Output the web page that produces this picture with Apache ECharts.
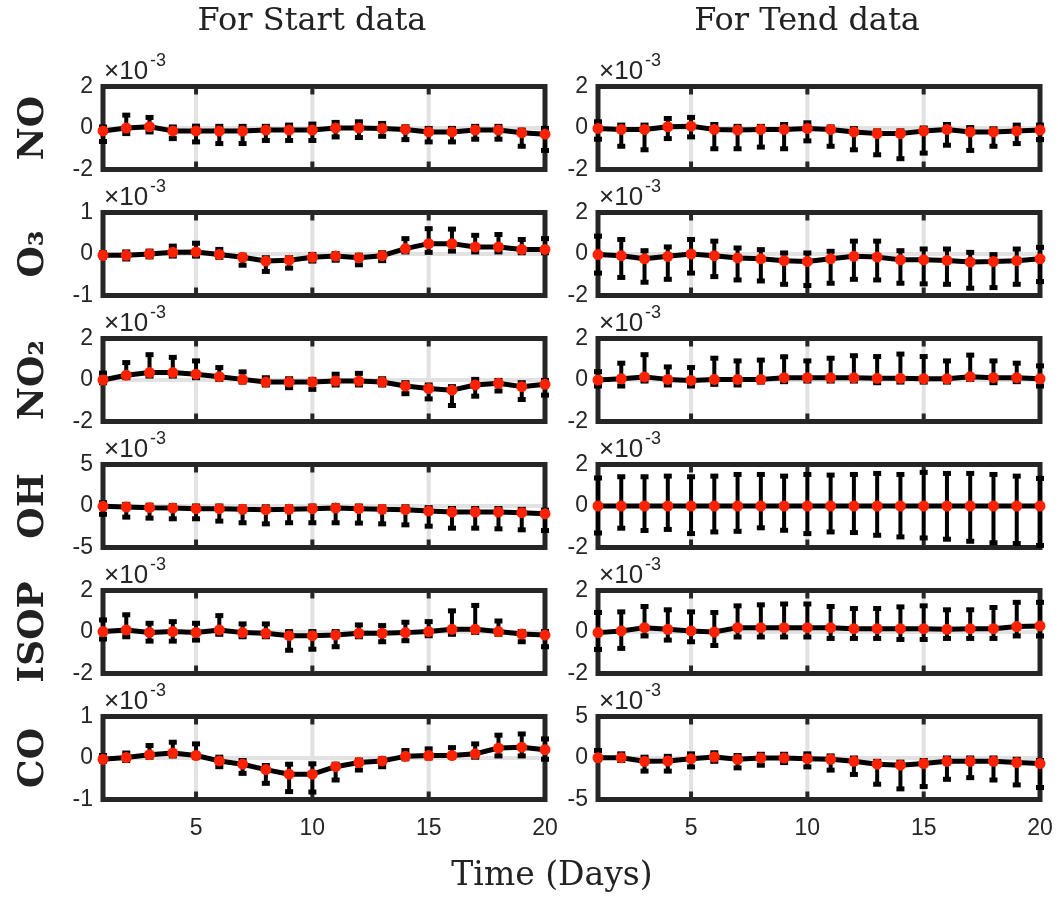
<!DOCTYPE html>
<html><head><meta charset="utf-8">
<script src="https://cdn.jsdelivr.net/npm/echarts@6/dist/echarts.min.js"></script>
<style>html,body{margin:0;padding:0;background:#fff}#c{width:1058px;height:898px}</style>
</head><body><div id="c"></div>
<script>
// All values in units of 1e-3 (axis shows ×10^-3)
const days = [1,2,3,4,5,6,7,8,9,10,11,12,13,14,15,16,17,18,19,20];
const species = ['NO','O₃','NO₂','OH','ISOP','CO'];
const columnTitles = ['For Start data','For Tend data'];
const xTickLabels = [5,10,15,20];
const xTickMarks = [5,10,15];
// y-axis half ranges [start, tend]
const yLimits = [[2,2],[1,2],[2,2],[5,2],[2,2],[1,5]];

const noStartMean = [-0.14,0.0,0.06,-0.14,-0.14,-0.15,-0.15,-0.1,-0.1,-0.1,0.0,0.0,-0.02,-0.07,-0.19,-0.19,-0.1,-0.1,-0.23,-0.3];
const noStartLow  = [-0.65,-0.27,-0.19,-0.51,-0.67,-0.75,-0.75,-0.6,-0.6,-0.6,-0.43,-0.46,-0.4,-0.56,-0.67,-0.67,-0.54,-0.54,-0.88,-1.08];
const noStartHigh = [0.05,0.62,0.51,0.05,0.09,0.08,0.08,0.08,0.14,0.19,0.27,0.3,0.22,0.06,-0.02,-0.02,0.08,0.08,-0.1,-0.02];

const noTendMean = [-0.02,-0.07,-0.07,0.06,0.09,-0.07,-0.1,-0.07,-0.07,-0.02,-0.07,-0.19,-0.27,-0.27,-0.15,-0.07,-0.19,-0.19,-0.14,-0.1];
const noTendLow  = [-0.54,-0.88,-1.05,-0.51,-0.43,-1.0,-1.0,-0.92,-1.0,-0.62,-0.88,-1.05,-1.29,-1.48,-1.21,-0.83,-1.08,-0.88,-0.75,-0.56];
const noTendHigh = [0.3,0.14,0.14,0.46,0.51,0.17,0.08,0.08,0.17,0.25,0.05,-0.03,-0.14,-0.14,0.0,0.17,0.02,-0.04,0.14,0.14];

const o3StartMean = [-0.03,-0.03,0.0,0.04,0.05,-0.01,-0.08,-0.17,-0.15,-0.08,-0.05,-0.09,-0.04,0.13,0.25,0.25,0.17,0.17,0.11,0.11];
const o3StartLow  = [-0.08,-0.12,-0.07,-0.05,-0.05,-0.08,-0.27,-0.42,-0.34,-0.17,-0.15,-0.26,-0.16,0.05,0.04,0.07,0.05,0.05,0.03,0.03];
const o3StartHigh = [0.03,0.05,0.07,0.19,0.26,0.11,-0.03,-0.09,-0.09,-0.01,0.01,-0.03,0.03,0.37,0.61,0.6,0.45,0.47,0.35,0.37];

const o3TendMean = [-0.03,-0.08,-0.23,-0.11,0.0,-0.08,-0.19,-0.23,-0.32,-0.36,-0.23,-0.11,-0.15,-0.28,-0.28,-0.31,-0.39,-0.36,-0.32,-0.23];
const o3TendLow  = [-0.92,-1.13,-1.36,-1.22,-0.92,-1.09,-1.25,-1.3,-1.46,-1.52,-1.41,-1.22,-1.25,-1.41,-1.44,-1.46,-1.65,-1.62,-1.46,-1.33];
const o3TendHigh = [0.86,0.7,0.16,0.34,0.7,0.62,0.29,0.21,0.05,0.05,0.13,0.62,0.62,0.16,0.24,0.24,0.08,-0.03,0.24,0.32];

const no2StartMean = [0.0,0.23,0.36,0.36,0.28,0.16,0.03,-0.1,-0.1,-0.1,-0.05,-0.05,-0.1,-0.29,-0.41,-0.49,-0.24,-0.16,-0.32,-0.21];
const no2StartLow  = [-0.13,0.11,0.19,0.19,0.11,0.03,-0.1,-0.24,-0.37,-0.45,-0.24,-0.24,-0.24,-0.66,-0.91,-1.23,-0.78,-0.53,-0.94,-0.73];
const no2StartHigh = [0.33,0.84,1.22,1.09,0.92,0.6,0.39,0.11,0.06,0.03,0.28,0.32,0.06,-0.13,-0.24,-0.32,0.03,-0.02,-0.13,-0.02];

const no2TendMean = [0.0,0.06,0.15,0.03,-0.02,0.03,0.03,0.03,0.11,0.11,0.11,0.11,0.08,0.08,0.06,0.06,0.16,0.11,0.11,0.06];
const no2TendLow  = [-0.29,-0.29,-0.05,-0.24,-0.29,-0.21,-0.24,-0.1,-0.08,-0.05,-0.05,-0.05,-0.13,-0.1,-0.1,-0.1,0.03,-0.13,-0.08,-0.29];
const no2TendHigh = [0.4,0.81,1.22,0.63,0.6,1.05,0.92,0.96,1.12,0.92,1.05,1.17,1.13,1.25,1.13,0.92,1.2,0.92,0.81,0.68];

const ohStartMean = [-0.04,-0.12,-0.2,-0.24,-0.32,-0.32,-0.4,-0.45,-0.4,-0.32,-0.24,-0.32,-0.4,-0.45,-0.61,-0.73,-0.73,-0.73,-0.81,-0.93];
const ohStartLow  = [-1.0,-1.34,-1.46,-1.54,-1.54,-1.82,-2.02,-2.15,-2.02,-2.02,-2.02,-2.06,-2.15,-2.27,-2.43,-2.67,-2.67,-2.75,-2.87,-2.96];
const ohStartHigh = [0.4,0.2,0.1,0.05,0.0,0.0,-0.1,-0.1,-0.1,0.0,0.05,0.0,-0.1,-0.1,-0.2,-0.3,-0.3,-0.3,-0.4,-0.5];

const ohTendMean = [0,0,0,0,0,0,0,0,0,0,0,0,0,0,0,0,0,0,0,0];
const ohTendLow  = [-1.3,-1.07,-1.18,-1.13,-1.33,-1.25,-1.22,-1.05,-1.17,-1.33,-1.25,-1.28,-1.41,-1.49,-1.54,-1.6,-1.7,-1.77,-1.81,-1.9];
const ohTendHigh = [1.35,1.41,1.41,1.44,1.41,1.44,1.52,1.52,1.44,1.52,1.49,1.52,1.57,1.52,1.62,1.57,1.57,1.52,1.44,1.33];

const isopStartMean = [0.02,0.1,-0.02,0.02,-0.02,0.1,-0.03,-0.06,-0.18,-0.18,-0.15,-0.06,-0.06,-0.03,0.02,0.13,0.13,0.02,-0.1,-0.15];
const isopStartLow  = [-0.34,-0.23,-0.44,-0.44,-0.39,-0.11,-0.23,-0.23,-0.88,-0.83,-0.71,-0.23,-0.47,-0.42,-0.18,-0.11,-0.02,-0.11,-0.47,-0.71];
const isopStartHigh = [0.58,0.83,0.42,0.5,0.42,0.79,0.39,0.39,0.02,0.02,0.02,0.34,0.31,0.47,0.5,1.02,1.28,0.53,0.02,0.02];

const isopTendMean = [-0.03,0.05,0.21,0.13,0.05,0.0,0.21,0.21,0.21,0.21,0.21,0.16,0.16,0.16,0.16,0.13,0.16,0.16,0.26,0.29];
const isopTendLow  = [-0.84,-0.79,-0.19,-0.39,-0.47,-0.65,-0.24,-0.24,-0.24,-0.24,-0.31,-0.31,-0.31,-0.36,-0.36,-0.31,-0.31,-0.31,-0.19,-0.19];
const isopTendHigh = [0.94,0.97,1.23,1.07,0.97,0.94,1.26,1.31,1.35,1.35,1.23,1.13,1.13,1.21,1.26,1.07,1.07,1.18,1.43,1.43];

const coStartMean = [-0.03,0.01,0.08,0.12,0.06,-0.07,-0.15,-0.28,-0.39,-0.39,-0.21,-0.11,-0.07,0.04,0.06,0.06,0.1,0.24,0.26,0.2];
const coStartLow  = [-0.08,-0.06,0.02,0.05,0.01,-0.21,-0.37,-0.61,-0.81,-0.82,-0.53,-0.29,-0.21,-0.02,0.0,0.02,0.02,0.05,0.05,-0.03];
const coStartHigh = [0.06,0.12,0.3,0.38,0.34,0.02,-0.06,-0.18,-0.15,-0.14,-0.15,-0.05,-0.02,0.18,0.22,0.25,0.34,0.55,0.58,0.46];

const coTendMean = [0.04,0.04,-0.4,-0.36,-0.08,0.12,-0.16,0.0,0.0,-0.08,-0.16,-0.4,-0.75,-0.87,-0.67,-0.4,-0.4,-0.4,-0.55,-0.67];
const coTendLow  = [-0.2,-0.3,-1.58,-1.58,-1.07,-0.4,-1.19,-0.87,-0.55,-1.07,-1.46,-1.98,-3.16,-3.72,-3.44,-2.57,-2.37,-2.65,-3.24,-3.56];
const coTendHigh = [0.9,0.5,0.1,0.2,0.5,0.63,0.3,0.45,0.45,0.5,0.25,0.0,-0.4,-0.5,-0.3,0.0,0.0,0.0,-0.15,-0.3];

const panelData = [
  [[noStartMean,noStartLow,noStartHigh],[noTendMean,noTendLow,noTendHigh]],
  [[o3StartMean,o3StartLow,o3StartHigh],[o3TendMean,o3TendLow,o3TendHigh]],
  [[no2StartMean,no2StartLow,no2StartHigh],[no2TendMean,no2TendLow,no2TendHigh]],
  [[ohStartMean,ohStartLow,ohStartHigh],[ohTendMean,ohTendLow,ohTendHigh]],
  [[isopStartMean,isopStartLow,isopStartHigh],[isopTendMean,isopTendLow,isopTendHigh]],
  [[coStartMean,coStartLow,coStartHigh],[coTendMean,coTendLow,coTendHigh]]
];

// ---- layout / style ----
const COL_LEFT = [103, 598];
const GRID_W = 442;
const ROW_TOP = 86.5, ROW_STEP = 126, GRID_H = 83;
const FRAME = '#262626', GRIDLINE = '#e2e2e2', TXT = '#262626';
const SANS = 'Liberation Sans';
const SERIF = 'DejaVu Serif';

function renderErr(params, api) {
  const x = api.value(0), lo = api.value(1), hi = api.value(2);
  const a = api.coord([x, lo]), b = api.coord([x, hi]);
  const hw = 4;
  return {type:'group', children:[
    {type:'line', shape:{x1:a[0],y1:a[1],x2:b[0],y2:b[1]}, style:{stroke:'#000',lineWidth:4}},
    {type:'line', shape:{x1:a[0]-hw,y1:a[1],x2:a[0]+hw,y2:a[1]}, style:{stroke:'#000',lineWidth:5}},
    {type:'line', shape:{x1:b[0]-hw,y1:b[1],x2:b[0]+hw,y2:b[1]}, style:{stroke:'#000',lineWidth:5}}
  ]};
}
// vertical grid line + inward tick marks at the x tick values
function renderTick(params, api) {
  const cs = params.coordSys;
  const p = api.coord([api.value(0), 0]);
  const x = p[0], y0 = cs.y, y1 = cs.y + cs.height;
  return {type:'group', children:[
    {type:'line', shape:{x1:x,y1:y0+2,x2:x,y2:y1-2}, style:{stroke:GRIDLINE,lineWidth:4}},
    {type:'line', shape:{x1:x,y1:y0,x2:x,y2:y0+8}, style:{stroke:FRAME,lineWidth:4}},
    {type:'line', shape:{x1:x,y1:y1-8,x2:x,y2:y1}, style:{stroke:FRAME,lineWidth:4}}
  ]};
}

const option = {animation:false, backgroundColor:'#fff', grid:[], xAxis:[], yAxis:[], series:[], graphic:[]};

let gi = 0;
for (let r = 0; r < 6; r++) {
  for (let c = 0; c < 2; c++) {
    const [mean, low, high] = panelData[r][c];
    const lim = yLimits[r][c];
    const top = ROW_TOP + r * ROW_STEP, left = COL_LEFT[c];
    const bottomRow = r === 5;
    option.grid.push({left, top, width:GRID_W, height:GRID_H, show:true, borderWidth:5,
      borderColor:FRAME, backgroundColor:'rgba(0,0,0,0)', z:3, outerBoundsMode:'none', containLabel:false});
    option.xAxis.push({gridIndex:gi, type:'value', min:1, max:20, position:'bottom', z:1,
      axisLine:{show:false}, axisTick:{show:false},
      axisLabel:{show:bottomRow, customValues:xTickLabels, margin:18, fontSize:23, color:TXT, fontFamily:SANS},
      splitLine:{show:false}});
    option.yAxis.push({gridIndex:gi, type:'value', min:-lim, max:lim, interval:lim, z:1,
      axisLine:{show:false}, axisTick:{show:false},
      axisLabel:{show:true, margin:10, fontSize:23, color:TXT, fontFamily:SANS},
      splitLine:{show:true, showMinLine:false, showMaxLine:false, lineStyle:{color:GRIDLINE, width:4}}});
    option.series.push({type:'custom', xAxisIndex:gi, yAxisIndex:gi, z:4, clip:false,
      renderItem:renderTick, data: xTickMarks.map(v=>[v]), silent:true});
    option.series.push({type:'custom', xAxisIndex:gi, yAxisIndex:gi, z:5, clip:false,
      renderItem:renderErr, data: days.map((d,i)=>[d, low[i], high[i]]), silent:true});
    option.series.push({type:'line', xAxisIndex:gi, yAxisIndex:gi, z:6,
      data: days.map((d,i)=>[d, mean[i]]), symbol:'circle', symbolSize:11,
      lineStyle:{color:'#000', width:5}, itemStyle:{color:'#ff2200'}, silent:true});
    // exponent label ×10^-3
    option.graphic.push({type:'text', x:left+1, y:top-15, z:10,
      style:{text:'×10', fill:TXT, fontSize:26, fontFamily:SANS, textAlign:'left', verticalAlign:'middle'}});
    option.graphic.push({type:'text', x:left+47, y:top-25, z:10,
      style:{text:'-3', fill:TXT, fontSize:18, fontFamily:SANS, textAlign:'left', verticalAlign:'middle'}});
    gi++;
  }
  // row label
  option.graphic.push({type:'text', x:34, y:ROW_TOP + r*ROW_STEP + GRID_H/2, rotation:Math.PI/2, z:10,
    style:{text:species[r], fontSize:36, fontWeight:'bold', fontFamily:SERIF, fill:'#222', textAlign:'center', verticalAlign:'middle'}});
}
// column titles
for (let c = 0; c < 2; c++) {
  option.graphic.push({type:'text', x:COL_LEFT[c] + GRID_W/2 - 12, y:22, z:10,
    style:{text:columnTitles[c], fontSize:32, fontFamily:SERIF, fill:'#222', textAlign:'center', verticalAlign:'middle'}});
}
option.graphic.push({type:'text', x:552, y:876, z:10,
  style:{text:'Time (Days)', fontSize:33, fontFamily:SERIF, fill:'#222', textAlign:'center', verticalAlign:'middle'}});

const chart = echarts.init(document.getElementById('c'), null, {renderer:'canvas'});
chart.setOption(option);
</script></body></html>
